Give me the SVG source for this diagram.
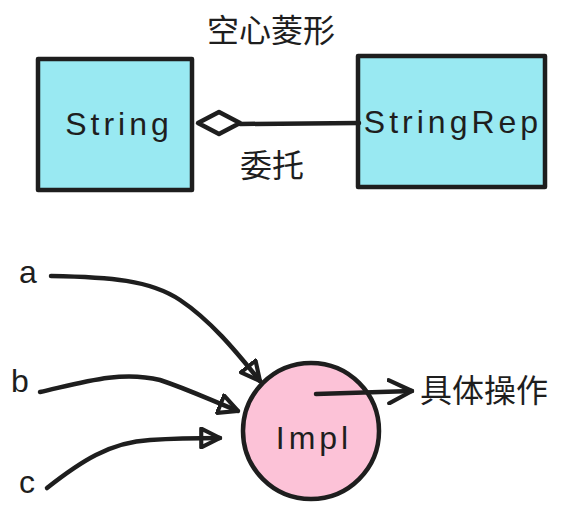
<svg xmlns="http://www.w3.org/2000/svg" width="570" height="514" viewBox="0 0 570 514">
<style>
.box{fill:#99e9f2;stroke:#1e1e1e;stroke-width:4.5;stroke-linejoin:round}
.ln{fill:none;stroke:#1e1e1e;stroke-width:4.5;stroke-linecap:round;stroke-linejoin:round}
.t{font-family:"Liberation Sans","Noto Sans CJK SC",sans-serif;fill:#1e1e1e;font-size:32px;letter-spacing:4px}
.cjk{font-family:"Noto Sans CJK SC",sans-serif;fill:#1e1e1e;font-size:32px}
</style>
<defs>
<marker id="ah" viewBox="0 0 12 12" refX="11" refY="6" markerWidth="5" markerHeight="5" orient="auto" markerUnits="strokeWidth">
<path d="M1,1 L11,6 L1,11 Z" fill="none" stroke="#1e1e1e" stroke-width="2.2" stroke-linejoin="round"/>
</marker>
<marker id="oa" viewBox="0 0 14 14" refX="13" refY="7" markerWidth="6" markerHeight="6" orient="auto" markerUnits="strokeWidth">
<path d="M1,1 L13,7 L1,13" fill="none" stroke="#1e1e1e" stroke-width="2.2" stroke-linecap="round" stroke-linejoin="round"/>
</marker>
</defs>
<g id="String">
<rect class="box" x="38" y="59" width="154" height="131"/>
<text class="t" x="119" y="135" text-anchor="middle">String</text>
</g>
<g id="StringRep">
<rect class="box" x="358" y="56" width="187" height="131"/>
<text class="t" x="453" y="133" text-anchor="middle">StringRep</text>
</g>
<g id="labels">
<text class="cjk" x="271" y="42" text-anchor="middle">空心菱形</text>
<text class="cjk" x="272" y="177" text-anchor="middle">委托</text>
</g>
<g id="Impl">
<circle cx="311" cy="431" r="68" fill="#fcc2d7" stroke="#1e1e1e" stroke-width="4.5"/>
<text class="t" x="314" y="449" text-anchor="middle">Impl</text>
</g>
<g id="a"><text class="t" x="30" y="283" text-anchor="middle">a</text></g>
<g id="b"><text class="t" x="22" y="392" text-anchor="middle">b</text></g>
<g id="c"><text class="t" x="29" y="493" text-anchor="middle">c</text></g>
<g id="op"><text class="cjk" x="420" y="402">具体操作</text></g>
<g id="connectors">
<path class="ln" d="M359,123 L240,124"/>
<path d="M198,123 L219,112 L240,123 L219,134 Z" fill="#ffffff" stroke="#1e1e1e" stroke-width="4.5" stroke-linejoin="round"/>
<path class="ln" d="M51,276 C110,277 150,280 180,300 C210,320 235,350 260,381" marker-end="url(#ah)"/>
<path class="ln" d="M40,392 C80,383 120,370 160,380 C190,390 210,400 238,411" marker-end="url(#ah)"/>
<path class="ln" d="M47,488 C80,462 110,442 150,440 C180,438 200,438 220,438" marker-end="url(#ah)"/>
<path class="ln" d="M316,394 L412,391" marker-end="url(#oa)"/>
</g>
</svg>
